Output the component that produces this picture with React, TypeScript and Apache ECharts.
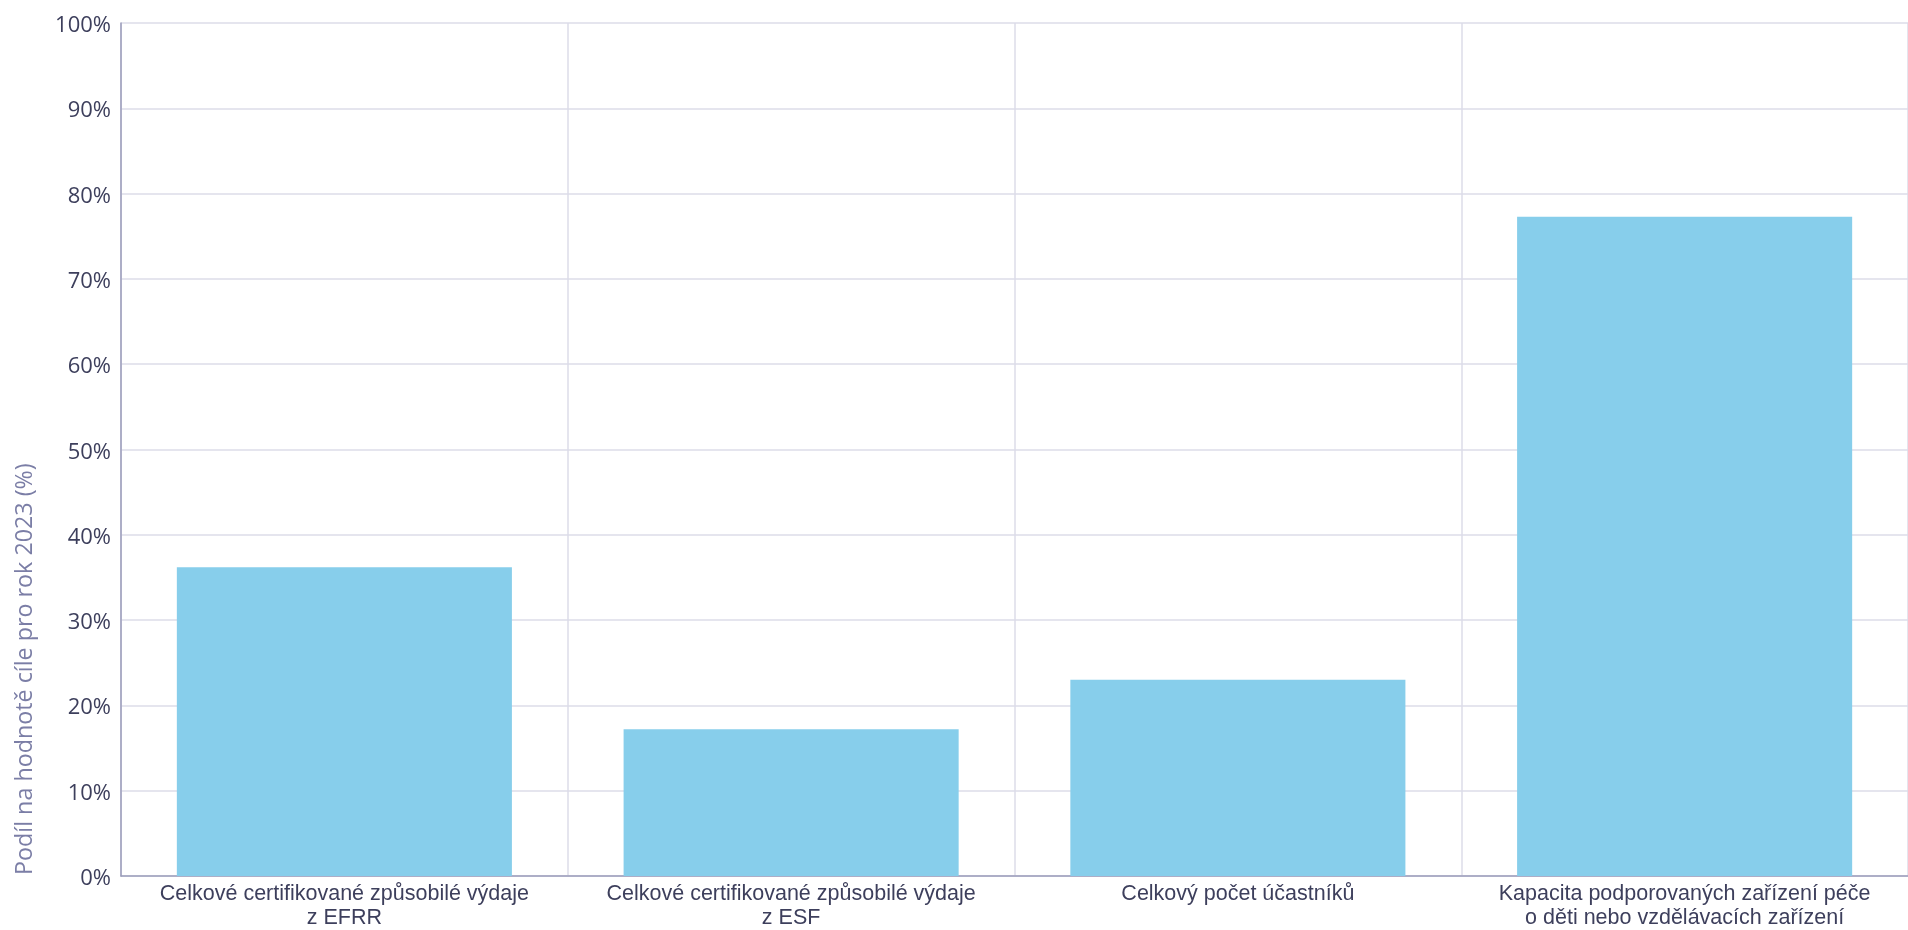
import React, { useEffect, useRef } from "react";
import * as echarts from "echarts";

const categories = [
  "Celkové certifikované způsobilé výdaje\nz EFRR",
  "Celkové certifikované způsobilé výdaje\nz ESF",
  "Celkový počet účastníků",
  "Kapacita podporovaných zařízení péče\no děti nebo vzdělávacích zařízení",
];
const values = [36.2, 17.2, 23.0, 77.3];
const axisName = "Podíl na hodnotě cíle pro rok 2023 (%)";

const FONT = "'Open Sans', sans-serif";
const LABEL_FONT = "'Liberation Sans', Arial, sans-serif";

export default function App() {
  const ref = useRef<HTMLDivElement>(null);
  useEffect(() => {
    if (!ref.current) return;
    const chart = echarts.init(ref.current, undefined, { renderer: "svg" });
    chart.setOption({
      animation: false,
      textStyle: { fontFamily: FONT },
      grid: { left: 121, right: 0, top: 23, bottom: 54, containLabel: false },
      xAxis: {
        type: "category",
        data: categories,
        axisLine: { show: true, lineStyle: { color: "#9b9dba", width: 1.5 } },
        axisTick: { show: false },
        splitLine: { show: true, lineStyle: { color: "#dddde8", width: 1.5 } },
        axisLabel: {
          color: "#3d3f5c",
          fontSize: 21.5,
          lineHeight: 24,
          margin: 5,
          fontFamily: LABEL_FONT,
          interval: 0,
        },
      },
      yAxis: {
        type: "value",
        min: 0,
        max: 100,
        interval: 10,
        axisLine: { show: true, lineStyle: { color: "#9b9dba", width: 1.5 } },
        axisTick: { show: false },
        splitLine: { show: true, lineStyle: { color: "#dddde8", width: 1.5 } },
        axisLabel: {
          color: "#3d3f5c",
          fontSize: 22,
          margin: 10,
          fontFamily: FONT,
          formatter: "{value}%",
        },
      },
      graphic: [
        {
          type: "text",
          x: 23,
          y: 875,
          rotation: Math.PI / 2,
          style: {
            text: axisName,
            fill: "#7b7ea6",
            font: `23.3px ${FONT}`,
            textAlign: "left",
            textVerticalAlign: "middle",
          },
        },
      ],
      series: [
        {
          type: "bar",
          data: values,
          barCategoryGap: "25%",
          itemStyle: { color: "#87ceeb" },
        },
      ],
    });
    return () => chart.dispose();
  }, []);
  return (
    <div
      ref={ref}
      style={{ position: "fixed", left: 0, top: 0, width: 1908, height: 930 }}
    />
  );
}
